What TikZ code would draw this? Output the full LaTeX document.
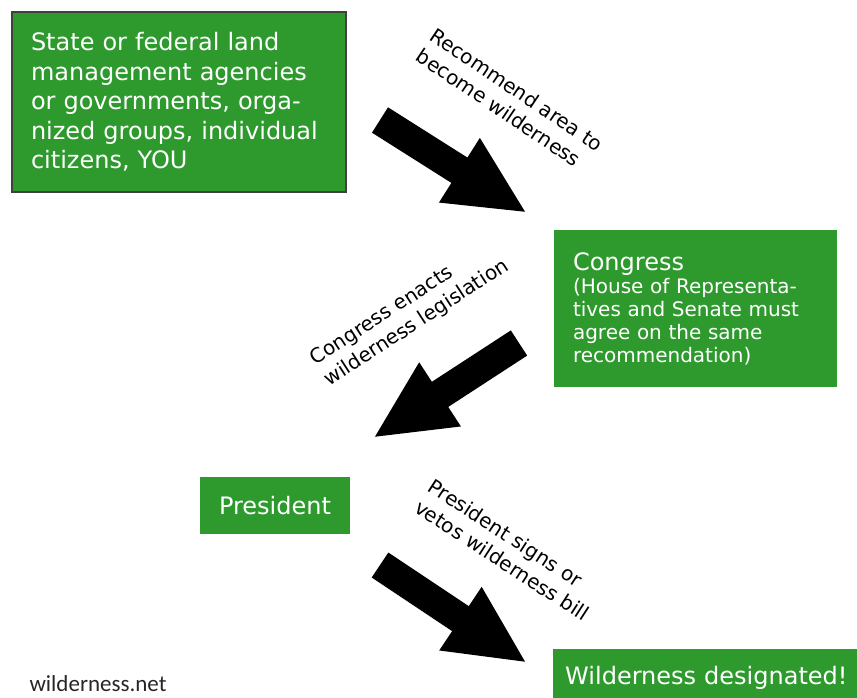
\documentclass[tikz,border=0pt]{standalone}
\usepackage{fontspec}
\usepackage{xcolor}
\setmainfont{DejaVu Sans}
\newfontfamily\creditfont{Carlito}
\usetikzlibrary{arrows.meta,positioning}
\definecolor{leaf}{RGB}{46,154,46}
\definecolor{ink}{RGB}{0,0,0}
\tikzstyle{stage} = [
    rectangle,
    fill=leaf,
    text=white,
    align=left,
    inner xsep=19pt,
    inner ysep=0pt,
    font=\fontsize{24}{29.5}\selectfont
]
\tikzstyle{bigarrow} = [
    draw=ink,
    line width=30pt,
    -{Triangle[length=80pt,width=70pt]}
]
\tikzstyle{steplabel} = [
    align=left,
    inner sep=0pt,
    font=\fontsize{20}{25}\selectfont
]

\begin{document}
\begin{tikzpicture}[x=1pt,y=-1pt]
    \useasboundingbox (0,0) rectangle (857,698);

    % boxes
    \node[stage, draw=black!75, line width=1.5pt, text width=296pt,
        minimum height=180pt] (source) at (179,102)
        {State or federal land\\management agencies\\or governments, orga-\\nized groups, individual\\citizens, YOU};
    \node[stage, text width=245pt, minimum height=157pt,
        font=\fontsize{20}{23}\selectfont] (congress) at (695.5,308.5)
        {{\fontsize{24}{23}\selectfont Congress}\\(House of Representa-\\tives and Senate must\\agree on the same\\recommendation)};
    \node[stage, minimum width=146pt, minimum height=57pt] (president) at (275,505.5) {President};
    \node[stage, anchor=north west, inner xsep=12pt, text width=300pt,
        minimum height=58pt] (designated) at (553,649) {Wilderness designated!};

    % arrows
    \coordinate (a1s) at (380,120);
    \coordinate (a1e) at (527,213);
    \coordinate (a2s) at (519,343);
    \coordinate (a2e) at (373,438);
    \coordinate (a3s) at (380,565);
    \coordinate (a3e) at (527,663);
    \draw[bigarrow] (a1s) -- (a1e);
    \draw[bigarrow] (a2s) -- (a2e);
    \draw[bigarrow] (a3s) -- (a3e);

    % labels
    \node[steplabel, rotate=-34] (recommend) at (510,100) {Recommend area to\\become wilderness};
    \node[steplabel, rotate=33] (enacts) at (410,313) {Congress enacts\\wilderness legislation};
    \node[steplabel, rotate=-33] (signs) at (509,550) {President signs or\\vetos wilderness bill};

    \node[font=\creditfont\fontsize{23}{27}\selectfont, text=black!85] (credit) at (98,684) {wilderness.net};
\end{tikzpicture}
\end{document}
